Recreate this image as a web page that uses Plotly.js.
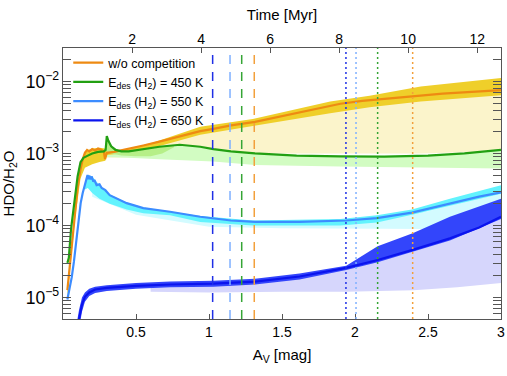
<!DOCTYPE html>
<html>
<head>
<meta charset="utf-8">
<script src="https://cdn.plot.ly/plotly-3.0.1.min.js"></script>
<style>html,body{margin:0;padding:0;background:#fff;}#chart{width:507px;height:376px;}</style>
</head>
<body>
<div id="chart"></div>
<script>
// ---------- data (A_V in mag, HDO/H2O ratio) ----------
// w/o competition (orange)
const avOrange = [0.03,0.045,0.06,0.08,0.10,0.12,0.135,0.15,0.165,0.18,0.20,0.22,0.24,0.265,0.28,0.288,0.30,0.35,0.45,0.55,0.66,0.80,0.94,1.03,1.15,1.315,1.5,1.7,1.9,2.05,2.2,2.4,2.6,2.8,3.0];
const hdoOrange = [1.26e-5,2.63e-5,5.62e-5,1.51e-4,3.31e-4,6.03e-4,8.32e-4,1.02e-3,1.12e-3,1.07e-3,1.15e-3,1.10e-3,1.17e-3,1.12e-3,1.05e-3,8.32e-4,1.02e-3,1.05e-3,1.15e-3,1.29e-3,1.46e-3,1.74e-3,2.04e-3,2.19e-3,2.45e-3,2.75e-3,3.31e-3,4.07e-3,4.90e-3,5.37e-3,5.75e-3,6.31e-3,6.76e-3,7.16e-3,7.59e-3];
const avOrangeBand = [0.03,0.08,0.12,0.15,0.2,0.25,0.29,0.3,0.4,0.6,0.94,1.3,1.83,2.1,2.45,2.8,3.0];
const orangeBandHi = [1.32e-5,1.66e-4,6.61e-4,1.07e-3,1.17e-3,1.20e-3,1.17e-3,1.07e-3,1.12e-3,1.38e-3,2.34e-3,3.02e-3,5.25e-3,6.31e-3,8.51e-3,1.0e-2,1.12e-2];
const orangeBandLo = [1.0e-5,1.12e-4,4.47e-4,6.31e-4,7.08e-4,7.59e-4,7.94e-4,9.55e-4,1.0e-3,1.17e-3,1.82e-3,2.40e-3,3.63e-3,4.37e-3,5.25e-3,6.03e-3,6.46e-3];
const avOrangePale = [0.3,0.5,0.7,0.94,1.3,1.83,2.45,3.0];
const orangePaleHi = [1.0e-3,1.12e-3,1.51e-3,1.91e-3,2.51e-3,3.80e-3,5.50e-3,6.76e-3];
const orangePaleLo = [8.71e-4,8.71e-4,8.91e-4,1.0e-3,1.0e-3,1.0e-3,1.0e-3,1.07e-3];

// Edes(H2) = 450 K (green)
const avGreen = [0.03,0.04,0.055,0.07,0.085,0.10,0.12,0.14,0.17,0.20,0.24,0.28,0.292,0.30,0.31,0.33,0.36,0.40,0.45,0.55,0.66,0.80,0.94,1.03,1.15,1.315,1.6,1.9,2.2,2.5,2.75,3.0];
const hdoGreen = [3.02e-5,3.55e-5,8.91e-5,1.66e-4,3.02e-4,4.79e-4,7.59e-4,8.71e-4,9.33e-4,1.0e-3,1.05e-3,1.07e-3,1.12e-3,1.74e-3,1.51e-3,1.26e-3,1.12e-3,1.07e-3,1.07e-3,1.15e-3,1.24e-3,1.32e-3,1.24e-3,1.15e-3,1.07e-3,1.0e-3,9.33e-4,9.12e-4,9.02e-4,9.33e-4,1.0e-3,1.12e-3];
const avGreenBand = [0.295,0.30,0.33,0.40,0.50,0.60,0.68,0.76];
const greenBandHi = [1.12e-3,1.74e-3,1.26e-3,1.07e-3,1.10e-3,1.20e-3,1.26e-3,1.31e-3];
const greenBandLo = [1.07e-3,1.07e-3,1.0e-3,9.33e-4,9.12e-4,9.12e-4,1.0e-3,1.22e-3];
const avGreenPale = [0.3,0.45,0.66,0.85,1.03,1.315,1.6,1.9,2.5,3.0];
const greenPaleHi = [1.07e-3,1.07e-3,1.24e-3,1.30e-3,1.15e-3,1.0e-3,9.33e-4,9.12e-4,9.33e-4,1.12e-3];
const greenPaleLo = [8.91e-4,8.71e-4,8.32e-4,7.94e-4,7.76e-4,6.92e-4,6.76e-4,6.61e-4,6.31e-4,6.17e-4];

// Edes(H2) = 550 K (light blue)
const avBlue550 = [0.03,0.045,0.06,0.075,0.09,0.105,0.121,0.135,0.15,0.162,0.168,0.175,0.18,0.19,0.196,0.208,0.215,0.23,0.25,0.265,0.29,0.32,0.436,0.55,0.733,0.94,1.15,1.315,1.62,1.94,2.15,2.39,2.65,2.85,3.0];
const hdoBlue550 = [9.33e-6,1.32e-5,1.91e-5,3.16e-5,5.62e-5,1.12e-4,2.04e-4,2.82e-4,3.63e-4,4.37e-4,5.01e-4,4.37e-4,4.90e-4,4.37e-4,4.79e-4,4.07e-4,4.27e-4,3.63e-4,3.72e-4,3.31e-4,3.09e-4,2.63e-4,2.04e-4,1.74e-4,1.55e-4,1.32e-4,1.17e-4,1.12e-4,1.12e-4,1.17e-4,1.26e-4,1.51e-4,2.04e-4,2.51e-4,2.88e-4];
const avBlue550Band = [0.15,0.17,0.2,0.25,0.32,0.436,0.55,0.733,0.94,1.3,1.9,2.15,2.39,2.65,3.0];
const blue550BandHi = [3.63e-4,5.01e-4,4.79e-4,3.63e-4,2.69e-4,2.09e-4,1.78e-4,1.58e-4,1.35e-4,1.17e-4,1.23e-4,1.38e-4,1.66e-4,2.34e-4,3.63e-4];
const blue550BandLo = [3.16e-4,3.31e-4,2.82e-4,2.34e-4,2.0e-4,1.66e-4,1.48e-4,1.38e-4,1.12e-4,1.0e-4,1.0e-4,1.10e-4,1.41e-4,1.86e-4,2.75e-4];
const avBlue550Pale = [0.2,0.5,1.0,1.5,2.0,2.5,3.0];
const blue550PaleHi = [3.16e-4,1.78e-4,1.26e-4,1.12e-4,1.17e-4,1.58e-4,2.82e-4];
const blue550PaleLo = [2.51e-4,1.41e-4,9.55e-5,9.12e-5,8.91e-5,8.91e-5,8.91e-5];

// Edes(H2) = 650 K (dark blue)
const avBlue650 = [0.10,0.11,0.13,0.15,0.18,0.22,0.3,0.5,0.733,1.03,1.315,1.62,1.94,2.155,2.395,2.65,2.85,3.0];
const hdoBlue650 = [3.55e-6,5.01e-6,7.94e-6,1.02e-5,1.17e-5,1.29e-5,1.36e-5,1.45e-5,1.51e-5,1.55e-5,1.66e-5,1.95e-5,2.57e-5,3.31e-5,4.57e-5,6.61e-5,9.33e-5,1.32e-4];
const avBlue650Band = [0.095,0.11,0.13,0.15,0.18,0.22,0.3,0.5,0.733,1.03,1.315,1.62,1.94,2.155,2.395,2.65,3.0];
const blue650BandHi = [4.47e-6,6.76e-6,1.0e-5,1.17e-5,1.32e-5,1.41e-5,1.48e-5,1.58e-5,1.66e-5,1.70e-5,1.82e-5,2.14e-5,2.75e-5,5.13e-5,7.76e-5,1.32e-4,2.34e-4];
const blue650BandLo = [2.51e-6,3.80e-6,6.31e-6,8.71e-6,1.05e-5,1.15e-5,1.23e-5,1.32e-5,1.38e-5,1.41e-5,1.51e-5,1.78e-5,2.40e-5,3.09e-5,4.27e-5,6.17e-5,1.23e-4];
const avBlue650Pale = [0.6,1.0,1.5,1.94,2.4,2.7,3.0];
const blue650PaleHi = [1.41e-5,1.55e-5,1.82e-5,2.57e-5,4.57e-5,7.24e-5,1.32e-4];
const blue650PaleLo = [1.20e-5,1.17e-5,1.20e-5,1.20e-5,1.26e-5,1.38e-5,1.58e-5];

// vertical markers (A_V)
const dashedAV = [1.025,1.144,1.224,1.31];
const dottedAV = [1.938,2.007,2.155,2.395];
const markerColors = ['#1f2fe6','#7fb0ff','#35a535','#f2a03c'];

// axis ticks
const avTicks = [0.5,1,1.5,2,2.5,3];
const timeTicks = [2,4,6,8,10,12];
const timeRange = [0,12.69];
const legendNames = ['w/o competition','E<sub>des</sub> (H<sub>2</sub>) = 450 K','E<sub>des</sub> (H<sub>2</sub>) = 550 K','E<sub>des</sub> (H<sub>2</sub>) = 650 K'];

// ---------- traces ----------
function band(x, hi, lo, color){
  return {x: x.concat(x.slice().reverse()), y: hi.concat(lo.slice().reverse()),
    type:'scatter', mode:'lines', fill:'toself', fillcolor:color,
    line:{width:0,color:color}, showlegend:false, hoverinfo:'skip'};
}
function line(x, y, color, name, w){
  return {x:x, y:y, type:'scatter', mode:'lines', name:name,
    line:{color:color, width:w||2}, hoverinfo:'skip'};
}
const traces = [
  band(avOrangePale, orangePaleHi, orangePaleLo, '#fbf4cb'),
  band(avGreenPale, greenPaleHi, greenPaleLo, '#d2fcc2'),
  band(avBlue550Pale, blue550PaleHi, blue550PaleLo, '#d3fbff'),
  band(avBlue650Pale, blue650PaleHi, blue650PaleLo, '#d6d6fc'),
  band(avOrangeBand, orangeBandHi, orangeBandLo, '#efcf2a'),
  band(avGreenBand, greenBandHi, greenBandLo, '#b6ef88'),
  band(avBlue550Band, blue550BandHi, blue550BandLo, '#62f3fd'),
  band(avBlue650Band, blue650BandHi, blue650BandLo, '#3345fb'),
  line(avOrange, hdoOrange, '#ee8a12', legendNames[0], 2.2),
  line(avGreen, hdoGreen, '#22a012', legendNames[1], 2.2),
  line(avBlue550, hdoBlue550, '#3c8cff', legendNames[2], 2.2),
  line(avBlue650, hdoBlue650, '#0b14ee', legendNames[3], 2.2),
  {x: timeTicks, y: timeTicks.map(()=>null), xaxis:'x2', type:'scatter', mode:'lines', showlegend:false, hoverinfo:'skip'}
];

const shapes = [];
dashedAV.forEach((v,i)=>shapes.push({type:'line', xref:'x', yref:'paper', x0:v, x1:v, y0:0, y1:1, line:{color:markerColors[i], width:1.5, dash:'9px,8px'}}));
dottedAV.forEach((v,i)=>shapes.push({type:'line', xref:'x', yref:'paper', x0:v, x1:v, y0:0, y1:1, line:{color:markerColors[i], width:1.5, dash:'2px,3px'}}));

const axCol = '#555';
const layout = {
  width:507, height:376,
  margin:{l:63, r:6, t:48, b:57, pad:0},
  paper_bgcolor:'#fff', plot_bgcolor:'#fff',
  font:{family:'Liberation Sans, Arial, sans-serif', color:'#000', size:14},
  showlegend:true,
  legend:{x:0.012, y:1.0, xanchor:'left', yanchor:'top', bgcolor:'rgba(0,0,0,0)', font:{size:12.5}, itemwidth:30, tracegroupgap:0},
  xaxis:{range:[0,3], tickvals:avTicks, ticks:'inside', ticklen:5, tickcolor:axCol, showline:true, linecolor:axCol, linewidth:1, mirror:true, showgrid:false, zeroline:false, tickfont:{size:14},
    title:{text:'A<sub>V</sub> [mag]', font:{size:15}, standoff:10}},
  xaxis2:{overlaying:'x', side:'top', anchor:'y', range:timeRange, tickvals:timeTicks, ticks:'inside', ticklen:5, tickcolor:axCol, showline:false, showgrid:false, zeroline:false, tickfont:{size:14},
    title:{text:'Time [Myr]', font:{size:15}, standoff:6}},
  yaxis:{type:'log', range:[-5.30,-1.535], dtick:1, exponentformat:'power', ticks:'inside', ticklen:8, tickcolor:axCol, showline:true, linecolor:axCol, linewidth:1, mirror:'allticks', showgrid:false, zeroline:false, tickfont:{size:14},
    minor:{ticks:'inside', ticklen:4, tickcolor:axCol, dtick:'D1', showgrid:false},
    title:{text:'HDO/H<sub>2</sub>O', font:{size:15}, standoff:8}},
  shapes:shapes
};
Plotly.newPlot('chart', traces, layout, {displayModeBar:false, staticPlot:true});
</script>
</body>
</html>
